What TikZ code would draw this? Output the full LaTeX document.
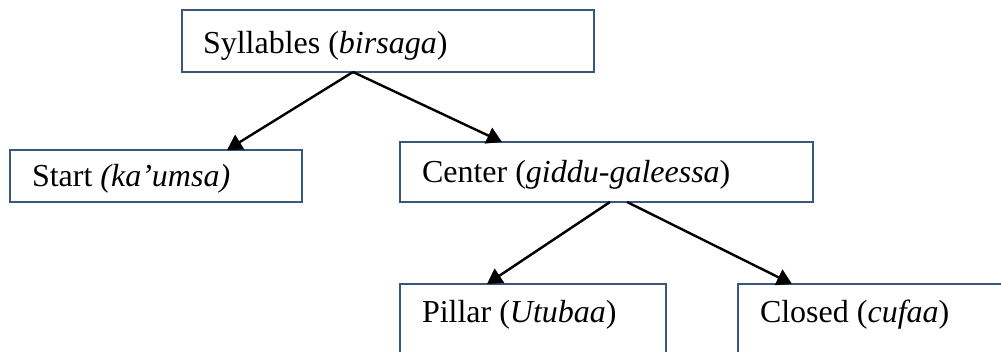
\documentclass[tikz,border=0pt]{standalone}
\usepackage{fontspec}
\setmainfont{Liberation Serif}
\usetikzlibrary{arrows.meta}
\definecolor{boxline}{RGB}{56,87,125}
\tikzset{
  box/.style={draw=boxline, line width=2.2pt, rectangle, anchor=north west,
              inner sep=0pt, outer sep=0pt},
  lbl/.style={anchor=base west, inner sep=0pt, outer sep=0pt,
              font=\fontsize{32}{38}\selectfont},
  conn/.style={draw=black, line width=2.4pt,
               -{Triangle[length=15pt,width=17pt]}},
}
\begin{document}
\begin{tikzpicture}[x=1pt, y=-1pt]
  \useasboundingbox (0,0) rectangle (1001,352);
  \clip (0,0) rectangle (1001,352);
  \fill[white] (0,0) rectangle (1001,352);

  % boxes
  \node[box, minimum width=412pt, minimum height=62pt] (top) at (182,10) {};
  \node[box, minimum width=292pt, minimum height=52pt] (start) at (10,150) {};
  \node[box, minimum width=413pt, minimum height=60pt] (center) at (400,142) {};
  \node[box, minimum width=266pt, minimum height=110pt] (pillar) at (400,284) {};
  \node[box, minimum width=280pt, minimum height=110pt] (closed) at (738,284) {};

  % labels
  \node[lbl] (topt) at (203,54) {Syllables (\textit{birsaga})};
  \node[lbl] (startt) at (32,187) {Start \textit{(ka’umsa)}};
  \node[lbl] (centert) at (422,183) {Center (\textit{giddu-galeessa})};
  \node[lbl] (pillart) at (422,323) {Pillar (\textit{Utubaa})};
  \node[lbl] (closedt) at (760,323) {Closed (\textit{cufaa})};

  % connectors
  \draw[conn] ([xshift=171pt]top.south west) -- ([xshift=217pt]start.north west);
  \draw[conn] ([xshift=171pt]top.south west) -- ([xshift=102pt]center.north west);
  \draw[conn] ([xshift=210pt]center.south west) -- ([xshift=87pt]pillar.north west);
  \draw[conn] ([xshift=227pt]center.south west) -- ([xshift=54pt]closed.north west);
\end{tikzpicture}
\end{document}
